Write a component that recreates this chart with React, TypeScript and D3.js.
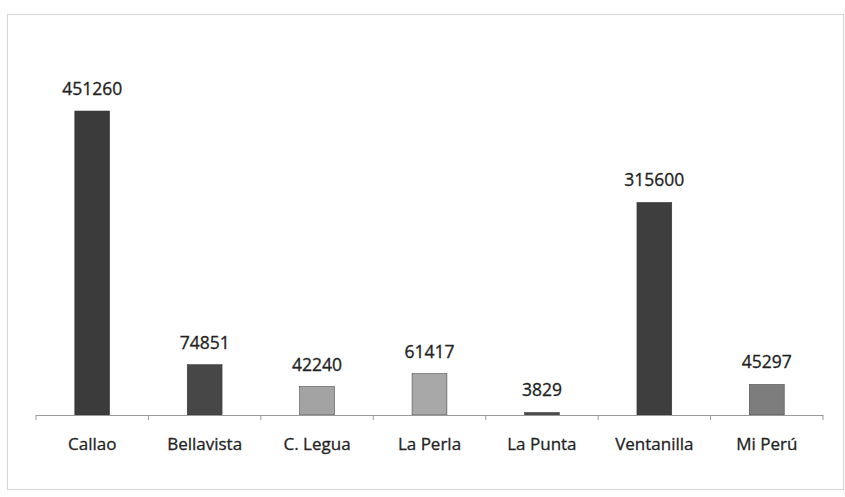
import React from "react";
import * as d3 from "d3";

const categories = ["Callao", "Bellavista", "C. Legua", "La Perla", "La Punta", "Ventanilla", "Mi Perú"];
const values = [451260, 74851, 42240, 61417, 3829, 315600, 45297];
const barColors = ["#3b3b3b", "#474747", "#a3a3a3", "#a8a8a8", "#505050", "#3e3e3e", "#7d7d7d"];

const W = 845;
const H = 497;
const left = 36;
const right = 823;
const baseY = 415;
const font = "'Open Sans', 'Liberation Sans', sans-serif";

export default function App() {
  const x = d3.scaleBand<string>().domain(categories).range([left, right]).paddingInner(0.69).paddingOuter(0.345);
  const y = d3.scaleLinear().domain([0, 451260]).range([baseY, 111]);
  const bandStep = (right - left) / categories.length;
  const tickXs = d3.range(categories.length + 1).map((i) => left + i * bandStep);

  return (
    <svg width={W} height={H} style={{ position: "absolute", left: 0, top: 0, background: "#fff" }}>
      <rect x={7.5} y={14.5} width={836} height={475} fill="#fff" stroke="#d4d4d4" strokeWidth={1} />
      {categories.map((c, i) => {
        const bx = x(c)!;
        const by = y(values[i]);
        return (
          <g key={c}>
            <rect x={bx} y={by} width={x.bandwidth()} height={baseY - by} fill={barColors[i]} stroke="#333" strokeWidth={0.5} />
            <text x={bx + x.bandwidth() / 2} y={by - 16} textAnchor="middle" fontFamily={font} fontSize={17.5} fill="#222" stroke="#222" strokeWidth={0.3}>
              {values[i]}
            </text>
            <text x={bx + x.bandwidth() / 2} y={450} textAnchor="middle" fontFamily={font} fontSize={17} fill="#222" stroke="#222" strokeWidth={0.3}>
              {c}
            </text>
          </g>
        );
      })}
      <line x1={left} x2={right} y1={baseY + 0.5} y2={baseY + 0.5} stroke="#9a9a9a" strokeWidth={1} />
      {tickXs.map((tx, i) => (
        <line key={i} x1={tx} x2={tx} y1={baseY} y2={baseY + 5} stroke="#9a9a9a" strokeWidth={1} />
      ))}
    </svg>
  );
}
